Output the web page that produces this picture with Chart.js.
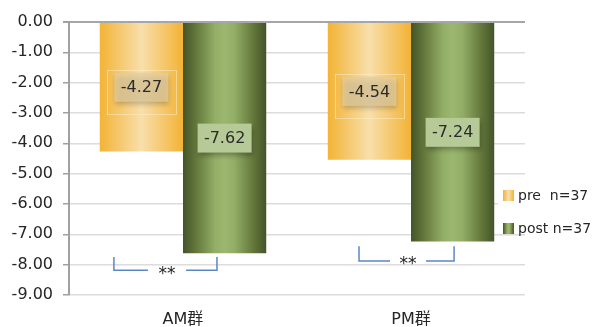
<!DOCTYPE html>
<html>
<head>
<meta charset="utf-8">
<script src="https://cdn.jsdelivr.net/npm/chart.js@4"></script>
<style>
  html, body { margin: 0; padding: 0; background: #fff; }
  #wrap { width: 593px; height: 327px; }
</style>
</head>
<body>
<div id="wrap"><canvas id="chart" width="593" height="327"></canvas></div>
<script>
// data
const categories = ['AM群', 'PM群'];
const seriesNames = ['pre  n=37', 'post n=37'];
const preValues = [-4.27, -4.54];
const postValues = [-7.62, -7.24];
const yMin = -9, yMax = 0, yStep = 1;
const sigLabels = ['**', '**'];

const FONT = "'DejaVu Sans', 'Noto Sans CJK JP', sans-serif";
const catPct = 0.73;

// horizontal gradients for the bars
const preStops = [[0, '#f3b335'], [0.5, '#f8dfab'], [1, '#f3b335']];
const postStops = [[0, '#44542a'], [0.15, '#62763a'], [0.38, '#92ad66'], [0.5, '#9bb770'], [0.62, '#92ad66'], [0.85, '#62763a'], [1, '#44542a']];

function makeGrad(ctx, x0, x1, stops) {
  const g = ctx.createLinearGradient(x0, 0, x1, 0);
  stops.forEach(s => g.addColorStop(s[0], s[1]));
  return g;
}

function barFill(stops, dsIndex) {
  return function(c) {
    const chart = c.chart;
    if (!chart.chartArea || !chart.scales.x) return stops[1][1];
    const xs = chart.scales.x;
    const catW = (chart.chartArea.right - chart.chartArea.left) / categories.length;
    const groupW = catW * catPct;
    const center = xs.getPixelForValue(c.dataIndex);
    const left = center - groupW / 2 + dsIndex * groupW / 2;
    return makeGrad(chart.ctx, left, left + groupW / 2, stops);
  };
}

// value boxes in the middle of each bar
const valueBoxes = {
  id: 'valueBoxes',
  afterDatasetsDraw(chart) {
    const ctx = chart.ctx;
    const fills = ['rgba(226,206,162,0.7)', '#b6ca98'];
    chart.data.datasets.forEach((ds, di) => {
      const meta = chart.getDatasetMeta(di);
      meta.data.forEach((bar, i) => {
        const p = bar.getCenterPoint();
        const w = 54, h = 29;
        ctx.save();
        if (di === 0) {
          ctx.strokeStyle = 'rgba(255,236,195,0.55)';
          ctx.lineWidth = 1;
          ctx.strokeRect(Math.round(p.x - 34) + 0.5, Math.round(p.y - 17) + 0.5, 69, 44);
        }
        ctx.shadowColor = 'rgba(0,0,0,0.3)';
        ctx.shadowBlur = 5;
        ctx.shadowOffsetX = 1;
        ctx.shadowOffsetY = 3;
        ctx.fillStyle = fills[di];
        ctx.fillRect(p.x - w / 2, p.y - h / 2, w, h);
        ctx.restore();
        ctx.save();
        ctx.fillStyle = '#2b2b2b';
        ctx.font = '16px ' + FONT;
        ctx.textAlign = 'center';
        ctx.textBaseline = 'middle';
        ctx.fillText(ds.data[i].toFixed(2), p.x, p.y + 1);
        ctx.restore();
      });
    });
  }
};

// significance brackets under each group
const brackets = {
  id: 'brackets',
  afterDraw(chart) {
    const ctx = chart.ctx;
    const xs = chart.scales.x, ys = chart.scales.y;
    const catW = (chart.chartArea.right - chart.chartArea.left) / categories.length;
    const geo = [
      { l: -0.303, r: 0.149, bot: -8.18, top: -7.75, mid: -0.07, gap: 19 },
      { l: -0.228, r: 0.189, bot: -7.88, top: -7.39, mid: -0.013, gap: 18 }
    ];
    sigLabels.forEach((txt, i) => {
      const g = geo[i];
      const c = xs.getPixelForValue(i);
      const xl = c + g.l * catW, xr = c + g.r * catW, xm = c + g.mid * catW;
      const yb = ys.getPixelForValue(g.bot), yt = ys.getPixelForValue(g.top);
      ctx.save();
      ctx.strokeStyle = '#5b87c5';
      ctx.lineWidth = 1.5;
      ctx.beginPath();
      ctx.moveTo(xl, yt); ctx.lineTo(xl, yb); ctx.lineTo(xm - g.gap, yb);
      ctx.moveTo(xm + g.gap, yb); ctx.lineTo(xr, yb); ctx.lineTo(xr, yt);
      ctx.stroke();
      ctx.fillStyle = '#222';
      ctx.font = '17px ' + FONT;
      ctx.textAlign = 'center';
      ctx.textBaseline = 'middle';
      ctx.fillText(txt, xm, yb + 4);
      ctx.restore();
    });
  }
};

// legend on the right, over the plot
const sideLegend = {
  id: 'sideLegend',
  afterDraw(chart) {
    const ctx = chart.ctx;
    const a = chart.chartArea;
    const x = a.right - 22;
    ctx.save();
    ctx.fillStyle = '#fff';
    ctx.fillRect(x - 5, a.top + 156, chart.width - x + 5, 54);
    const allStops = [preStops, postStops];
    seriesNames.forEach((name, i) => {
      const y = a.top + 168 + i * 33;
      ctx.fillStyle = makeGrad(ctx, x, x + 11, allStops[i]);
      ctx.fillRect(x, y, 11, 11);
      ctx.fillStyle = '#262626';
      ctx.font = '14px ' + FONT;
      ctx.textAlign = 'left';
      ctx.textBaseline = 'middle';
      ctx.fillText(name, x + 15, y + 6);
    });
    ctx.restore();
  }
};

new Chart(document.getElementById('chart'), {
  type: 'bar',
  data: {
    labels: categories,
    datasets: [
      { label: seriesNames[0], data: preValues, backgroundColor: barFill(preStops, 0),
        borderWidth: 0, categoryPercentage: catPct, barPercentage: 1 },
      { label: seriesNames[1], data: postValues, backgroundColor: barFill(postStops, 1),
        borderWidth: 0, categoryPercentage: catPct, barPercentage: 1 }
    ]
  },
  options: {
    responsive: false,
    animation: false,
    layout: { padding: { left: 0, top: 22, right: 68, bottom: 0 } },
    plugins: { legend: { display: false }, tooltip: { enabled: false } },
    scales: {
      x: {
        grid: { display: false },
        border: { display: false },
        ticks: { color: '#262626', font: { family: FONT, size: 16 }, padding: 7 },
        afterFit(s) { s.height = 32; }
      },
      y: {
        min: yMin, max: yMax,
        ticks: {
          stepSize: yStep,
          color: '#262626',
          font: { family: FONT, size: 16 },
          padding: 10,
          callback: v => v.toFixed(2)
        },
        grid: {
          color: c => c.tick && c.tick.value === 0 ? '#a6a6a6' : '#dcdcdc',
          lineWidth: c => c.tick && c.tick.value === 0 ? 2 : 1.5,
          tickColor: '#a0a0a0',
          tickLength: 6
        },
        border: { color: '#a0a0a0', width: 2 },
        afterFit(s) { s.width = 69; }
      }
    }
  },
  plugins: [valueBoxes, brackets, sideLegend]
});
</script>
</body>
</html>
